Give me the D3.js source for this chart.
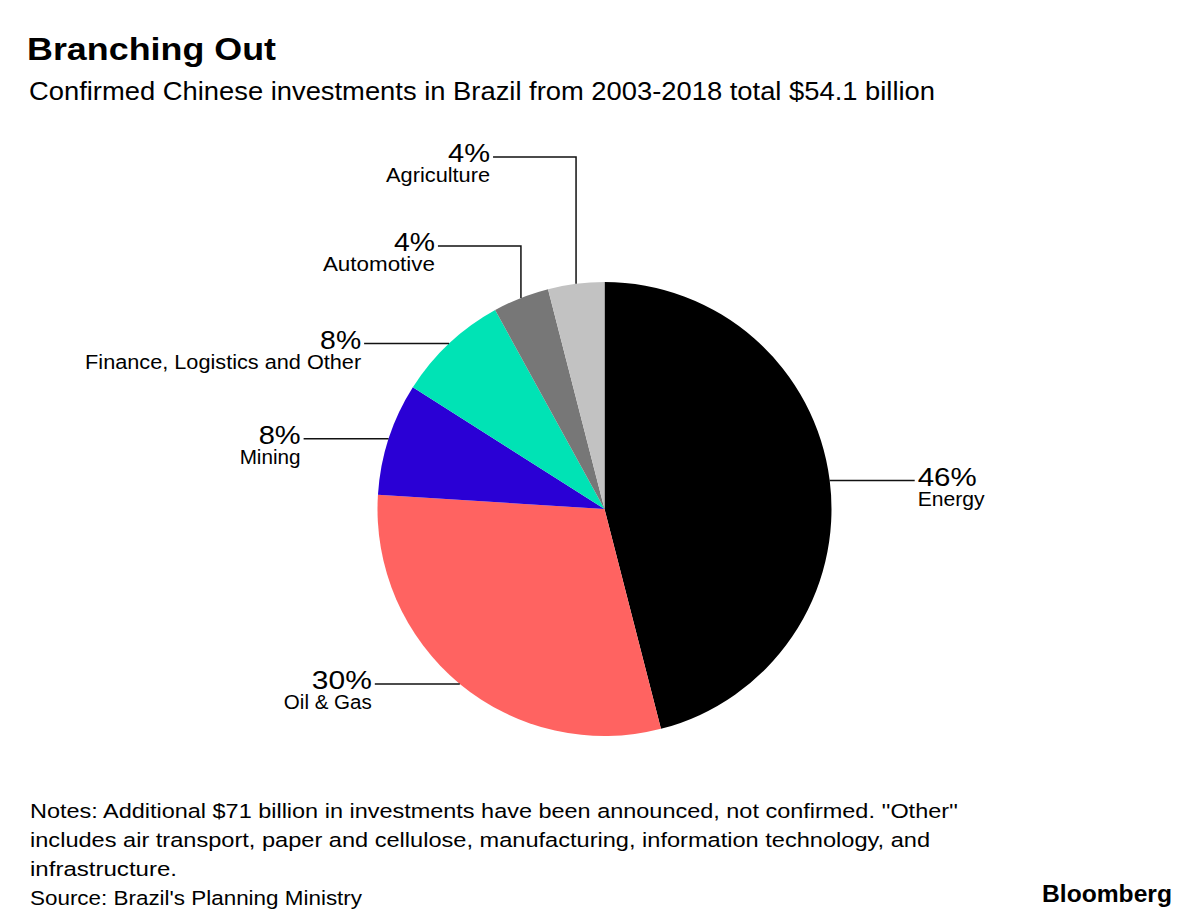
<!DOCTYPE html>
<html><head><meta charset="utf-8">
<script src="https://cdn.jsdelivr.net/npm/d3@7"></script>
<style>
body{margin:0;background:#fff;}
svg{display:block;font-family:"Liberation Sans",Arial,Helvetica,sans-serif;}
</style></head>
<body><svg id="chart" width="1200" height="921"></svg>
<script>
const categories = ["Energy","Oil & Gas","Mining","Finance, Logistics and Other","Automotive","Agriculture"];
const shares = [46,30,8,8,4,4];
const percentLabels = ["46%","30%","8%","8%","4%","4%"];
const colors = ["#000000","#ff6361","#2a00d5","#00e3b5","#777777","#c2c2c2"];
const notes = [
  "Notes: Additional $71 billion in investments have been announced, not confirmed. ''Other''",
  "includes air transport, paper and cellulose, manufacturing, information technology, and",
  "infrastructure.",
  "Source: Brazil's Planning Ministry"
];

// layout (positions / sizes) kept separate from the data
const textWidths = {
  title:249, subtitle:906, bloomberg:130,
  notes:[928,900,147,332],
  pct:{"Energy":59,"Oil & Gas":60,"Mining":42,"Finance, Logistics and Other":41,"Automotive":41,"Agriculture":42},
  name:{"Energy":67,"Oil & Gas":88,"Mining":61,"Finance, Logistics and Other":276,"Automotive":112,"Agriculture":104}
};
function fit(sel, w){ return sel.attr("textLength",w).attr("lengthAdjust","spacingAndGlyphs"); }

const svg = d3.select("#chart");
const cx = 604.5, cy = 509, R = 227;

fit(svg.append("text").attr("x",27).attr("y",60).attr("font-size",32).attr("font-weight","bold").attr("fill","#000").text("Branching Out"), textWidths.title);
fit(svg.append("text").attr("x",29).attr("y",100).attr("font-size",25).attr("fill","#000").text("Confirmed Chinese investments in Brazil from 2003-2018 total $54.1 billion"), textWidths.subtitle);

const data = categories.map((c,i)=>({cat:c,value:shares[i],pct:percentLabels[i],color:colors[i]}));
const pie = d3.pie().value(d=>d.value).sort(null);
const arcs = pie(data);
const arc = d3.arc().innerRadius(0).outerRadius(R);

const g = svg.append("g").attr("transform",`translate(${cx},${cy})`);
g.selectAll("path").data(arcs).enter().append("path")
  .attr("d",arc).attr("fill",d=>d.data.color);

const layout = {
  "Energy":{side:1},
  "Oil & Gas":{side:-1},
  "Mining":{side:-1},
  "Finance, Logistics and Other":{side:-1},
  "Automotive":{side:-1, elbowY:246-cy},
  "Agriculture":{side:-1, elbowY:157-cy}
};
const lineLen = 85, elbowLen = 83;
const lg = svg.append("g").attr("transform",`translate(${cx},${cy})`);
arcs.forEach(a=>{
  const mid = (a.startAngle+a.endAngle)/2;
  const ax = R*Math.sin(mid), ay = -R*Math.cos(mid);
  const L = layout[a.data.cat];
  let pts, tx, ty;
  if (L.elbowY !== undefined) {
    pts = [[ax,ay],[ax,L.elbowY],[ax-elbowLen,L.elbowY]];
    tx = ax-elbowLen-3; ty = L.elbowY;
  } else {
    pts = [[ax,ay],[ax+L.side*lineLen,ay]];
    tx = ax+L.side*(lineLen+3); ty = ay;
  }
  lg.append("path").attr("d",d3.line()(pts)).attr("fill","none").attr("stroke","#111").attr("stroke-width",1.5);
  const anchor = L.side>0?"start":"end";
  fit(lg.append("text").attr("x",tx).attr("y",ty+5).attr("font-size",26).attr("text-anchor",anchor).attr("fill","#000").text(a.data.pct), textWidths.pct[a.data.cat]);
  fit(lg.append("text").attr("x",tx).attr("y",ty+25).attr("font-size",19.5).attr("text-anchor",anchor).attr("fill","#000").text(a.data.cat), textWidths.name[a.data.cat]);
});

notes.forEach((t,i)=>{
  fit(svg.append("text").attr("x",30).attr("y",818+i*29).attr("font-size",20.5).attr("fill","#000").text(t), textWidths.notes[i]);
});
fit(svg.append("text").attr("x",1172).attr("y",902).attr("text-anchor","end").attr("font-size",24).attr("font-weight","bold").attr("fill","#000").text("Bloomberg"), textWidths.bloomberg);
</script>
</body></html>
